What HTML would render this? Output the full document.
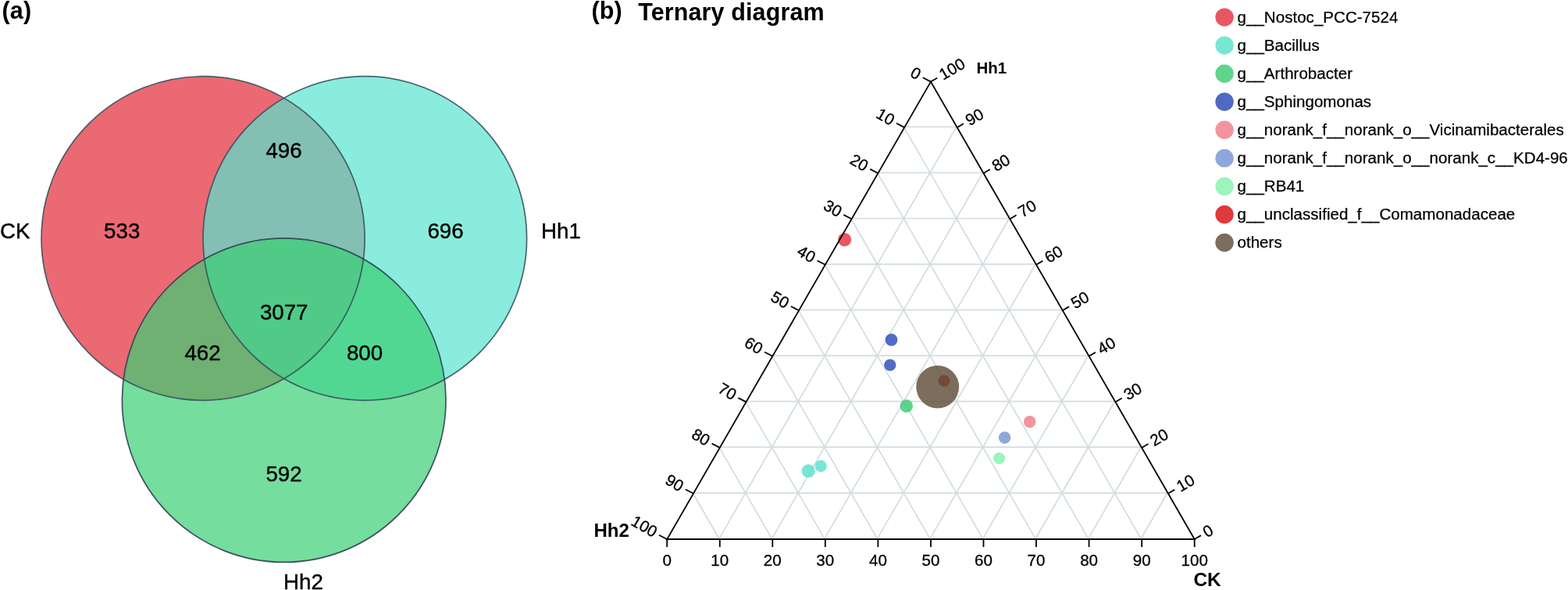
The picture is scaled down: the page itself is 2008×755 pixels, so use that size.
<!DOCTYPE html>
<html lang="en">
<head>
<meta charset="utf-8">
<title>Venn and Ternary diagram</title>
<style>
html,body{margin:0;padding:0;background:#fff;}
body{width:2008px;height:755px;overflow:hidden;position:relative;font-family:"Liberation Sans", sans-serif;}
svg{position:absolute;left:0;top:0;display:block;}
text{font-family:"Liberation Sans", sans-serif;fill:#000;stroke:#000;stroke-width:0.45px;stroke-linejoin:round;}
.vn{font-size:27.7px;stroke-width:0.42px;}
.tk{font-size:20.6px;stroke-width:0.3px;}
.lg{font-size:20.58px;stroke-width:0.25px;}
.ax{font-size:24px;font-weight:bold;stroke:none;}
.ax1{font-size:20.5px;font-weight:bold;stroke:none;}
.tt{font-size:30.5px;font-weight:bold;stroke:none;letter-spacing:0.12px;}
</style>
</head>
<body>
<svg width="2008" height="755" viewBox="0 0 2008 755">
<g id="venn">
<ellipse cx="260.05" cy="305.00" rx="207.05" ry="207.30" fill="#e22a36" fill-opacity="0.70" stroke="none"/>
<ellipse cx="467.30" cy="305.00" rx="207.30" ry="207.30" fill="#59e4ce" fill-opacity="0.70" stroke="none"/>
<ellipse cx="363.70" cy="512.10" rx="207.30" ry="207.30" fill="#3ace73" fill-opacity="0.70" stroke="none"/>
<ellipse cx="260.05" cy="305.00" rx="207.05" ry="207.30" fill="none" stroke="#33505c" stroke-opacity="0.88" stroke-width="1.7"/>
<ellipse cx="467.30" cy="305.00" rx="207.30" ry="207.30" fill="none" stroke="#33505c" stroke-opacity="0.88" stroke-width="1.7"/>
<ellipse cx="363.70" cy="512.10" rx="207.30" ry="207.30" fill="none" stroke="#2c3e50" stroke-opacity="0.88" stroke-width="1.7"/>
<text x="156.2" y="305.2" class="vn" text-anchor="middle">533</text>
<text x="363.5" y="202.2" class="vn" text-anchor="middle">496</text>
<text x="570.5" y="305.2" class="vn" text-anchor="middle">696</text>
<text x="363.7" y="409.0" class="vn" text-anchor="middle">3077</text>
<text x="259.5" y="460.5" class="vn" text-anchor="middle">462</text>
<text x="467.0" y="460.5" class="vn" text-anchor="middle">800</text>
<text x="363.5" y="616.0" class="vn" text-anchor="middle">592</text>
<text x="0.0" y="305.2" class="vn" text-anchor="start">CK</text>
<text x="693.0" y="305.2" class="vn" text-anchor="start">Hh1</text>
<text x="363.0" y="754.2" class="vn" text-anchor="start">Hh2</text>
</g>
<text x="2.6" y="23.8" class="tt" text-anchor="start">(a)</text>
<text x="757.5" y="23.9" class="tt" text-anchor="start">(b)</text>
<text x="817.2" y="26.2" class="tt" text-anchor="start">Ternary diagram</text>
<g id="grid" stroke="#d2dde0" stroke-width="1.7" fill="none">
<line x1="887.1" y1="630.8" x2="1495.0" y2="630.8"/>
<line x1="1157.3" y1="162.4" x2="1461.2" y2="689.3"/>
<line x1="1224.8" y1="162.4" x2="920.9" y2="689.3"/>
<line x1="920.9" y1="572.2" x2="1461.2" y2="572.2"/>
<line x1="1123.5" y1="221.0" x2="1393.7" y2="689.3"/>
<line x1="1258.6" y1="221.0" x2="988.4" y2="689.3"/>
<line x1="954.6" y1="513.7" x2="1427.5" y2="513.7"/>
<line x1="1089.7" y1="279.5" x2="1326.1" y2="689.3"/>
<line x1="1292.4" y1="279.5" x2="1055.9" y2="689.3"/>
<line x1="988.4" y1="455.1" x2="1393.7" y2="455.1"/>
<line x1="1055.9" y1="338.1" x2="1258.6" y2="689.3"/>
<line x1="1326.1" y1="338.1" x2="1123.5" y2="689.3"/>
<line x1="1022.2" y1="396.6" x2="1359.9" y2="396.6"/>
<line x1="1022.2" y1="396.6" x2="1191.0" y2="689.3"/>
<line x1="1359.9" y1="396.6" x2="1191.0" y2="689.3"/>
<line x1="1055.9" y1="338.1" x2="1326.1" y2="338.1"/>
<line x1="988.4" y1="455.1" x2="1123.5" y2="689.3"/>
<line x1="1393.7" y1="455.1" x2="1258.6" y2="689.3"/>
<line x1="1089.7" y1="279.5" x2="1292.4" y2="279.5"/>
<line x1="954.6" y1="513.7" x2="1055.9" y2="689.3"/>
<line x1="1427.5" y1="513.7" x2="1326.1" y2="689.3"/>
<line x1="1123.5" y1="221.0" x2="1258.6" y2="221.0"/>
<line x1="920.9" y1="572.2" x2="988.4" y2="689.3"/>
<line x1="1461.2" y1="572.2" x2="1393.7" y2="689.3"/>
<line x1="1157.3" y1="162.4" x2="1224.8" y2="162.4"/>
<line x1="887.1" y1="630.8" x2="920.9" y2="689.3"/>
<line x1="1495.0" y1="630.8" x2="1461.2" y2="689.3"/>
</g>
<g id="points">
<circle cx="1081.6" cy="306.6" r="8.6" fill="#e33140" fill-opacity="0.82"/>
<circle cx="1035.2" cy="602.6" r="8.6" fill="#5ae1cc" fill-opacity="0.82"/>
<circle cx="1051.1" cy="596.3" r="7.6" fill="#5ae1cc" fill-opacity="0.82"/>
<circle cx="1160.8" cy="519.6" r="8.3" fill="#3dcb73" fill-opacity="0.82"/>
<circle cx="1141.5" cy="434.8" r="7.9" fill="#2c4bb8" fill-opacity="0.82"/>
<circle cx="1139.8" cy="467.1" r="7.7" fill="#2c4bb8" fill-opacity="0.82"/>
<circle cx="1318.7" cy="539.7" r="7.7" fill="#f27b8a" fill-opacity="0.82"/>
<circle cx="1286.6" cy="560.0" r="7.7" fill="#7594d2" fill-opacity="0.82"/>
<circle cx="1279.5" cy="586.5" r="7.6" fill="#85f3af" fill-opacity="0.82"/>
<circle cx="1209.0" cy="487.4" r="7.5" fill="#d80f0f" fill-opacity="0.82"/>
<circle cx="1200.7" cy="495.1" r="27.4" fill="#5f4d38" fill-opacity="0.82"/>
</g>
<g id="axes" stroke="#000" stroke-width="1.8" fill="none" stroke-linecap="butt">
<path d="M1191.95 104.60L854.20 690.00L1529.70 690.00Z" stroke-linejoin="miter"/>
<line x1="1192.0" y1="104.6" x2="1181.8" y2="99.3"/>
<line x1="1529.7" y1="690.0" x2="1538.0" y2="685.1"/>
<line x1="854.2" y1="690.0" x2="854.2" y2="700.0"/>
<line x1="1158.2" y1="163.1" x2="1148.0" y2="157.8"/>
<line x1="1495.9" y1="631.5" x2="1504.2" y2="626.6"/>
<line x1="921.8" y1="690.0" x2="921.8" y2="700.0"/>
<line x1="1124.4" y1="221.7" x2="1114.2" y2="216.4"/>
<line x1="1462.2" y1="572.9" x2="1470.5" y2="568.0"/>
<line x1="989.3" y1="690.0" x2="989.3" y2="700.0"/>
<line x1="1090.6" y1="280.2" x2="1080.4" y2="274.9"/>
<line x1="1428.4" y1="514.4" x2="1436.7" y2="509.5"/>
<line x1="1056.8" y1="690.0" x2="1056.8" y2="700.0"/>
<line x1="1056.8" y1="338.8" x2="1046.6" y2="333.5"/>
<line x1="1394.6" y1="455.8" x2="1402.9" y2="450.9"/>
<line x1="1124.4" y1="690.0" x2="1124.4" y2="700.0"/>
<line x1="1023.1" y1="397.3" x2="1012.9" y2="392.0"/>
<line x1="1360.8" y1="397.3" x2="1369.1" y2="392.4"/>
<line x1="1192.0" y1="690.0" x2="1192.0" y2="700.0"/>
<line x1="989.3" y1="455.8" x2="979.1" y2="450.5"/>
<line x1="1327.0" y1="338.8" x2="1335.3" y2="333.9"/>
<line x1="1259.5" y1="690.0" x2="1259.5" y2="700.0"/>
<line x1="955.5" y1="514.4" x2="945.3" y2="509.1"/>
<line x1="1293.3" y1="280.2" x2="1301.6" y2="275.3"/>
<line x1="1327.0" y1="690.0" x2="1327.0" y2="700.0"/>
<line x1="921.8" y1="572.9" x2="911.6" y2="567.6"/>
<line x1="1259.5" y1="221.7" x2="1267.8" y2="216.8"/>
<line x1="1394.6" y1="690.0" x2="1394.6" y2="700.0"/>
<line x1="888.0" y1="631.5" x2="877.8" y2="626.2"/>
<line x1="1225.7" y1="163.1" x2="1234.0" y2="158.2"/>
<line x1="1462.2" y1="690.0" x2="1462.2" y2="700.0"/>
<line x1="854.2" y1="690.0" x2="844.0" y2="684.7"/>
<line x1="1192.0" y1="104.6" x2="1200.2" y2="99.7"/>
<line x1="1529.7" y1="690.0" x2="1529.7" y2="700.0"/>
</g>
<g id="ticklabels">
<text class="tk" text-anchor="end" transform="translate(1177.9 96.5) rotate(30)" x="0" y="7.3">0</text>
<text class="tk" text-anchor="start" transform="translate(1542.3 682.8) rotate(-30)" x="0" y="6.6">0</text>
<text class="tk" text-anchor="middle" x="854.2" y="724.4">0</text>
<text class="tk" text-anchor="end" transform="translate(1144.1 155.0) rotate(30)" x="0" y="7.3">10</text>
<text class="tk" text-anchor="start" transform="translate(1508.5 624.2) rotate(-30)" x="0" y="6.6">10</text>
<text class="tk" text-anchor="middle" x="921.8" y="724.4">10</text>
<text class="tk" text-anchor="end" transform="translate(1110.4 213.6) rotate(30)" x="0" y="7.3">20</text>
<text class="tk" text-anchor="start" transform="translate(1474.7 565.7) rotate(-30)" x="0" y="6.6">20</text>
<text class="tk" text-anchor="middle" x="989.3" y="724.4">20</text>
<text class="tk" text-anchor="end" transform="translate(1076.6 272.1) rotate(30)" x="0" y="7.3">30</text>
<text class="tk" text-anchor="start" transform="translate(1440.9 507.1) rotate(-30)" x="0" y="6.6">30</text>
<text class="tk" text-anchor="middle" x="1056.8" y="724.4">30</text>
<text class="tk" text-anchor="end" transform="translate(1042.8 330.7) rotate(30)" x="0" y="7.3">40</text>
<text class="tk" text-anchor="start" transform="translate(1407.2 448.6) rotate(-30)" x="0" y="6.6">40</text>
<text class="tk" text-anchor="middle" x="1124.4" y="724.4">40</text>
<text class="tk" text-anchor="end" transform="translate(1009.0 389.2) rotate(30)" x="0" y="7.3">50</text>
<text class="tk" text-anchor="start" transform="translate(1373.4 390.1) rotate(-30)" x="0" y="6.6">50</text>
<text class="tk" text-anchor="middle" x="1192.0" y="724.4">50</text>
<text class="tk" text-anchor="end" transform="translate(975.3 447.7) rotate(30)" x="0" y="7.3">60</text>
<text class="tk" text-anchor="start" transform="translate(1339.6 331.5) rotate(-30)" x="0" y="6.6">60</text>
<text class="tk" text-anchor="middle" x="1259.5" y="724.4">60</text>
<text class="tk" text-anchor="end" transform="translate(941.5 506.3) rotate(30)" x="0" y="7.3">70</text>
<text class="tk" text-anchor="start" transform="translate(1305.8 273.0) rotate(-30)" x="0" y="6.6">70</text>
<text class="tk" text-anchor="middle" x="1327.0" y="724.4">70</text>
<text class="tk" text-anchor="end" transform="translate(907.7 564.8) rotate(30)" x="0" y="7.3">80</text>
<text class="tk" text-anchor="start" transform="translate(1272.1 214.4) rotate(-30)" x="0" y="6.6">80</text>
<text class="tk" text-anchor="middle" x="1394.6" y="724.4">80</text>
<text class="tk" text-anchor="end" transform="translate(873.9 623.4) rotate(30)" x="0" y="7.3">90</text>
<text class="tk" text-anchor="start" transform="translate(1238.3 155.9) rotate(-30)" x="0" y="6.6">90</text>
<text class="tk" text-anchor="middle" x="1462.2" y="724.4">90</text>
<text class="tk" text-anchor="end" transform="translate(840.2 681.9) rotate(30)" x="0" y="7.3">100</text>
<text class="tk" text-anchor="start" transform="translate(1204.5 97.3) rotate(-30)" x="0" y="6.6">100</text>
<text class="tk" text-anchor="middle" x="1529.7" y="724.4">100</text>
</g>
<text x="1250.4" y="94.1" class="ax1" text-anchor="start">Hh1</text>
<text x="760.5" y="687.0" class="ax" text-anchor="start">Hh2</text>
<text x="1528.4" y="750.3" class="ax" text-anchor="start" style="font-size:24.5px">CK</text>
<g id="legend">
<circle cx="1568.1" cy="22.1" r="11.7" fill="#e95661"/>
<text class="lg" x="1584.5" y="29.0">g__Nostoc_PCC-7524</text>
<circle cx="1568.1" cy="58.1" r="11.7" fill="#78e6d4"/>
<text class="lg" x="1584.5" y="65.0">g__Bacillus</text>
<circle cx="1568.1" cy="94.2" r="11.7" fill="#60d48c"/>
<text class="lg" x="1584.5" y="101.1">g__Arthrobacter</text>
<circle cx="1568.1" cy="130.2" r="11.7" fill="#5069c3"/>
<text class="lg" x="1584.5" y="137.1">g__Sphingomonas</text>
<circle cx="1568.1" cy="166.3" r="11.7" fill="#f4939f"/>
<text class="lg" x="1584.5" y="173.2">g__norank_f__norank_o__Vicinamibacterales</text>
<circle cx="1568.1" cy="202.4" r="11.7" fill="#8ea7da"/>
<text class="lg" x="1584.5" y="209.3">g__norank_f__norank_o__norank_c__KD4-96</text>
<circle cx="1568.1" cy="238.4" r="11.7" fill="#9bf5bd"/>
<text class="lg" x="1584.5" y="245.3">g__RB41</text>
<circle cx="1568.1" cy="274.5" r="11.7" fill="#df3a3a"/>
<text class="lg" x="1584.5" y="281.4">g__unclassified_f__Comamonadaceae</text>
<circle cx="1568.1" cy="310.5" r="11.7" fill="#7c6d5c"/>
<text class="lg" x="1584.5" y="317.4">others</text>
</g>
</svg>
</body>
</html>
